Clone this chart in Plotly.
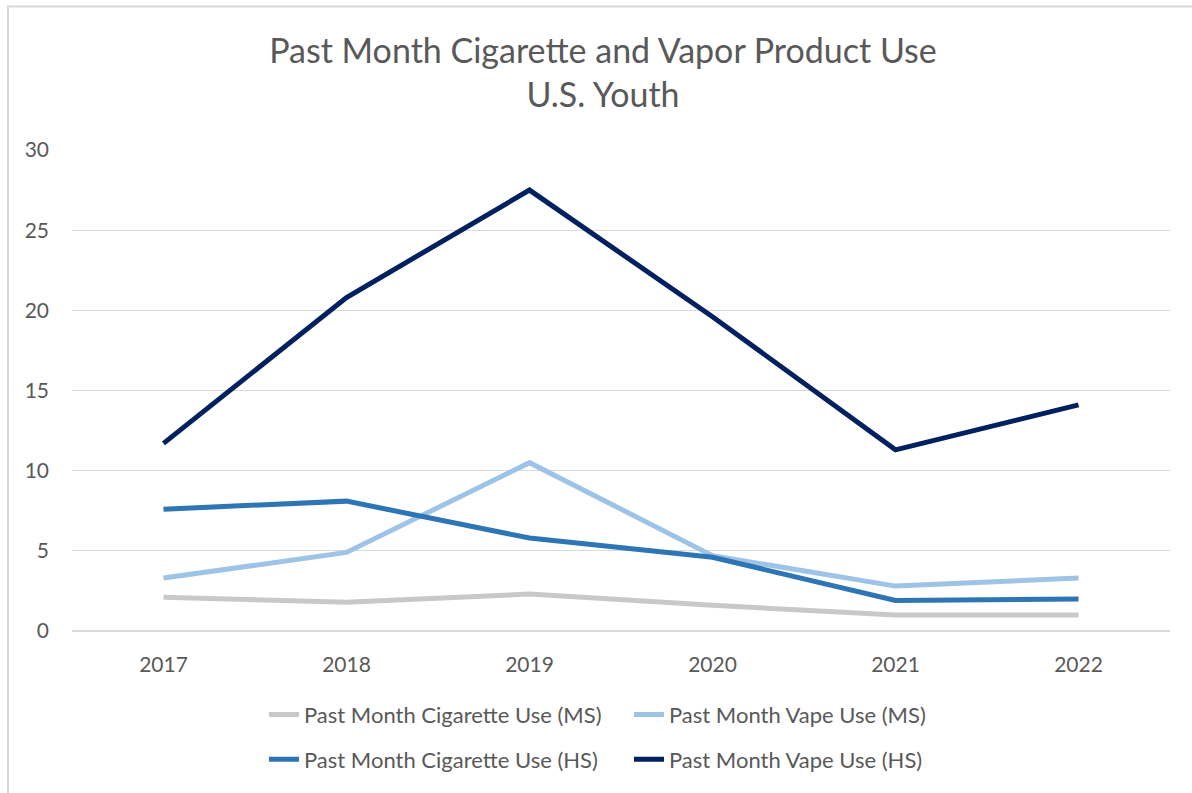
import plotly.graph_objects as go

years = ["2017", "2018", "2019", "2020", "2021", "2022"]
ms_cig = [2.1, 1.8, 2.3, 1.6, 1.0, 1.0]
ms_vape = [3.3, 4.9, 10.5, 4.7, 2.8, 3.3]
hs_cig = [7.6, 8.1, 5.8, 4.6, 1.9, 2.0]
hs_vape = [11.7, 20.8, 27.5, 19.6, 11.3, 14.1]

names = ["Past Month Cigarette Use (MS)", "Past Month Vape Use (MS)",
         "Past Month Cigarette Use (HS)", "Past Month Vape Use (HS)"]
colors = ["#C8C8C8", "#9DC3E6", "#2E75B6", "#002060"]
series = [ms_cig, ms_vape, hs_cig, hs_vape]
legends = ["legend", "legend", "legend2", "legend2"]

FONT = "Lato"
TXT = "#595959"

fig = go.Figure()
for n, c, s, lg in zip(names, colors, series, legends):
    fig.add_trace(go.Scatter(x=years, y=s, name=n, mode="lines",
                             line=dict(color=c, width=5), legend=lg))

W, H = 1192, 793
L, R, T, B = 72, 22, 150, 160
pw = W - L - R
ph = H - T - B

def px_x(p):
    return (p - L) / pw

def px_y(p):
    return (H - B - p) / ph

leg_common = dict(orientation="h", xanchor="left", yanchor="middle",
                  font=dict(size=22, color=TXT, family=FONT), entrywidth=320,
                  traceorder="normal", bgcolor="rgba(0,0,0,0)")

fig.update_layout(
    width=W, height=H,
    margin=dict(l=L, r=R, t=T, b=B),
    paper_bgcolor="white", plot_bgcolor="white",
    font=dict(family=FONT, color=TXT, size=21),
    title=dict(text="Past Month Cigarette and Vapor Product Use<br>U.S. Youth",
               x=603 / W, xanchor="center", xref="container",
               y=1 - 63 / H, yanchor="middle", yref="container",
               font=dict(size=34, color=TXT, family=FONT)),
    xaxis=dict(type="category", range=[-0.5, 5.5], showgrid=False,
               showline=False, ticks="", tickfont=dict(size=21, color=TXT),
               ticklabelstandoff=19),
    yaxis=dict(range=[0, 30], tickvals=[0, 5, 10, 15, 20, 25, 30],
               showgrid=True, gridcolor="#D9D9D9", gridwidth=1,
               zeroline=True, zerolinecolor="#D9D9D9", zerolinewidth=2,
               showline=False, ticks="", tickfont=dict(size=21, color=TXT),
               ticklabelstandoff=22),
    legend=dict(x=px_x(264), y=px_y(717), **leg_common),
    legend2=dict(x=px_x(264), y=px_y(762), **leg_common),
    showlegend=True,
    shapes=[dict(type="rect", xref="paper", yref="paper",
                 x0=px_x(8), x1=px_x(1210), y0=px_y(810), y1=px_y(6),
                 line=dict(color="#D9D9D9", width=2), fillcolor="rgba(0,0,0,0)",
                 layer="below")],
)

fig.write_html("out.html")
